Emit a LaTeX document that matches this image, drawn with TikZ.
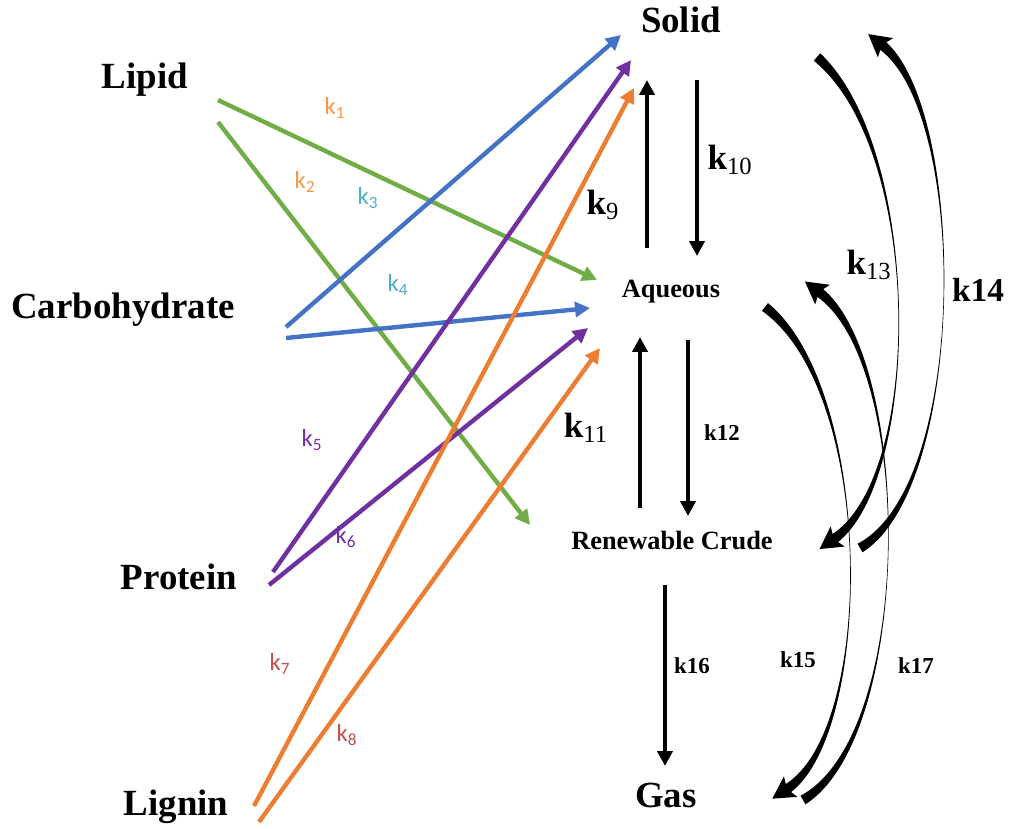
\documentclass[tikz,border=0pt]{standalone}
\usepackage{fontspec}
\setmainfont{Liberation Serif}
\newfontfamily\calibri{Carlito}
\usetikzlibrary{arrows.meta,calc}

\definecolor{lipidgreen}{HTML}{70AD47}
\definecolor{carbblue}{HTML}{4472C4}
\definecolor{protpurple}{HTML}{7030A0}
\definecolor{ligorange}{HTML}{ED7D31}
\definecolor{kone}{HTML}{F79646}
\definecolor{kthree}{HTML}{4BACC6}
\definecolor{kseven}{HTML}{C0504D}

% bold k with a plain subscript
\newcommand{\kk}[1]{{\bfseries k}\textsubscript{\mdseries #1}}
% tapered curved arrow: start, control, control, base of head
\newcommand{\bentflow}[4]{%
  \fill ($(#1)!2.8pt!90:(#2)$) .. controls ($(#2)!0.3pt!-90:(#3)$) and ($(#3)!0.3pt!90:(#2)$) .. ($(#4)!2.8pt!-90:(#3)$)
    -- ($(#4)!2.8pt!90:(#3)$) .. controls ($(#3)!0.3pt!-90:(#2)$) and ($(#2)!0.3pt!90:(#3)$) .. ($(#1)!2.8pt!-90:(#2)$) -- cycle;
  \fill ($(#4)!-10pt!(#3)$) -- ($(#4)!2.5pt!(#3)!7pt!90:(#4)$) -- (#4)
    -- ($(#4)!2.5pt!(#3)!7pt!-90:(#4)$) -- cycle;
}

\tikzset{
  feed/.style={inner sep=0pt, font=\fontsize{21}{25}\selectfont\bfseries},
  phase/.style={inner sep=0pt, font=\fontsize{15}{18}\selectfont\bfseries},
  rate/.style={inner sep=0pt, font=\fontsize{14}{16}\selectfont\calibri},
  krate/.style={inner sep=0pt, font=\fontsize{20}{24}\selectfont},
  ksmall/.style={inner sep=0pt, font=\fontsize{13}{15}\selectfont\bfseries},
  flow/.style={line width=2.5pt, -{Triangle[length=8.5pt,width=8.5pt]}},
}

\begin{document}
\begin{tikzpicture}[x=0.02cm, y=-0.02cm]
  \useasboundingbox (0,0) rectangle (1010,828);

  % feedstocks
  \node[feed] (lipid) at (145,80) {Lipid};
  \node[feed] (carb) at (123,310) {Carbohydrate};
  \node[feed] (prot) at (179,577) {Protein};
  \node[feed] (lign) at (176,807) {Lignin};

  % product phases
  \node[feed] (solid) at (681,20) {Solid};
  \node[phase] (aq) at (671,292) {Aqueous};
  \node[phase] (crude) at (672,541) {Renewable Crude};
  \node[feed] (gas) at (666,795) {Gas};

  % arrow ends
  \coordinate (lp1) at (218,100); \coordinate (lp2) at (218,122);
  \coordinate (cb1) at (286,327); \coordinate (cb2) at (286,338);
  \coordinate (pr1) at (273,572); \coordinate (pr2) at (269,585);
  \coordinate (lg1) at (254,806); \coordinate (lg2) at (259,822);
  \coordinate (so1) at (621,35);  \coordinate (so2) at (631,60);
  \coordinate (so3) at (634,88);
  \coordinate (aq1) at (597,280); \coordinate (aq2) at (590,308);
  \coordinate (aq3) at (588,328); \coordinate (aq4) at (600,348);
  \coordinate (rc1) at (530,525);

  \draw[flow, lipidgreen] (lp1) -- (aq1);
  \draw[flow, lipidgreen] (lp2) -- (rc1);
  \draw[flow, carbblue] (cb1) -- (so1);
  \draw[flow, carbblue] (cb2) -- (aq2);
  \draw[flow, protpurple] (pr1) -- (so2);
  \draw[flow, protpurple] (pr2) -- (aq3);
  \draw[flow, ligorange] (lg1) -- (so3);
  \draw[flow, ligorange] (lg2) -- (aq4);

  \node[rate, kone] (k1) at (335,108) {k\textsubscript{1}};
  \node[rate, kone] (k2) at (305,182) {k\textsubscript{2}};
  \node[rate, kthree] (k3) at (368,198) {k\textsubscript{3}};
  \node[rate, kthree] (k4) at (398,285) {k\textsubscript{4}};
  \node[rate, protpurple] (k5) at (312,440) {k\textsubscript{5}};
  \node[rate, protpurple] (k6) at (346,537) {k\textsubscript{6}};
  \node[rate, kseven] (k7) at (280,664) {k\textsubscript{7}};
  \node[rate, kseven] (k8) at (347,735) {k\textsubscript{8}};

  % exchange between phases
  \coordinate (sa1) at (647,248); \coordinate (sa2) at (647,80);
  \coordinate (sa3) at (697,80);  \coordinate (sa4) at (697,256);
  \coordinate (ac1) at (640,508); \coordinate (ac2) at (640,337);
  \coordinate (ac3) at (688,340); \coordinate (ac4) at (688,516);
  \coordinate (cg1) at (665,585); \coordinate (cg2) at (665,766);

  \draw[flow] (sa1) -- (sa2);
  \draw[flow] (sa3) -- (sa4);
  \draw[flow] (ac1) -- (ac2);
  \draw[flow] (ac3) -- (ac4);
  \draw[flow] (cg1) -- (cg2);

  \node[krate] (k9) at (603,205) {\kk{9}};
  \node[krate] (k10) at (730,160) {\kk{10}};
  \node[krate] (k11) at (586,428) {\kk{11}};
  \node[ksmall] (k12) at (722,433) {k12};
  \node[ksmall] (k16) at (692,666) {k16};

  % curved arrows on the right
  \coordinate (s13) at (817,57);  \coordinate (e13) at (834,539);
  \coordinate (s14) at (860,548); \coordinate (e14) at (882,45);
  \coordinate (s15) at (765,307); \coordinate (e15) at (787,789);
  \coordinate (s17) at (803,800); \coordinate (e17) at (819,292);

  \bentflow{s13}{923,150}{923,477}{e13}
  \bentflow{s14}{968,486}{968,113}{e14}
  \bentflow{s15}{875,391}{875,731}{e15}
  \bentflow{s17}{914,735}{914,363}{e17}

  \node[krate] (k13) at (869,265) {\kk{13}};
  \node[inner sep=0pt, font=\fontsize{19}{23}\selectfont\bfseries] (k14) at (978,290) {k14};
  \node[ksmall] (k15) at (798,660) {k15};
  \node[ksmall] (k17) at (916,666) {k17};
\end{tikzpicture}
\end{document}
